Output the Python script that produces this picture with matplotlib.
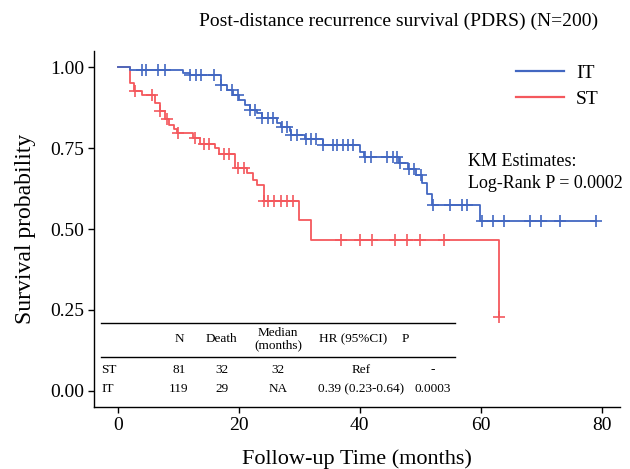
import numpy as np
import matplotlib
matplotlib.use('Agg')
import matplotlib.pyplot as plt
from matplotlib.lines import Line2D

# step times and survival after each step
it_times = [0, 2.0, 10.7, 11.9, 17.0, 18.0, 19.0, 20.0, 21.0, 21.8, 23.0, 23.9,
            26.3, 27.0, 28.4, 28.6, 31.0, 33.9, 40.0, 40.7, 46.5, 48.0, 49.3,
            50.3, 51.1, 51.9, 59.9]
it_surv = [1.0, 0.992, 0.983, 0.975, 0.944, 0.929, 0.914, 0.898, 0.884, 0.869,
           0.857, 0.842, 0.829, 0.816, 0.803, 0.790, 0.778, 0.759, 0.739, 0.721,
           0.703, 0.685, 0.667, 0.641, 0.608, 0.574, 0.525]
it_end = 79.1
it_censor = [3.9, 4.7, 6.7, 7.8, 11.9, 12.9, 13.7, 15.9, 17.0, 18.8, 19.9, 21.9,
             22.7, 23.9, 24.9, 25.7, 27.1, 27.9, 28.7, 29.6, 31.1, 32.0, 32.8,
             33.9, 35.6, 36.3, 37.2, 38.1, 38.9, 40.8, 41.8, 44.5, 45.5, 46.1,
             46.7, 48.1, 48.9, 50.1, 52.1, 55.0, 56.9, 57.7, 60.2, 62.0, 63.9,
             68.1, 70.0, 73.1, 79.1]

st_times = [0, 2.0, 2.6, 3.9, 6.1, 6.9, 7.8, 8.4, 9.3, 9.8, 12.5, 13.5, 16.0,
            16.8, 19.3, 21.3, 22.3, 23.0, 24.1, 30.0, 31.9, 63.1]
st_surv = [1.0, 0.951, 0.926, 0.914, 0.889, 0.864, 0.839, 0.821, 0.810, 0.797,
           0.780, 0.764, 0.749, 0.733, 0.690, 0.672, 0.651, 0.636, 0.587, 0.528,
           0.466, 0.229]
st_end = 63.1
st_censor = [2.8, 5.6, 6.9, 8.1, 10.0, 12.7, 14.2, 15.1, 17.5, 18.3, 19.8, 20.8,
             24.1, 24.9, 25.8, 26.9, 27.9, 28.9, 36.9, 40.0, 42.0, 45.9, 47.9,
             50.0, 53.9, 63.1]

# summary table
tab_header = ['N', 'Death', 'Median\n(months)', 'HR (95%CI)', 'P']
tab_groups = ['ST', 'IT']
tab_n = ['81', '119']
tab_death = ['32', '29']
tab_median = ['32', 'NA']
tab_hr = ['Ref', '0.39 (0.23-0.64)']
tab_p = ['-', '0.0003']

BLUE = '#4267c1'
RED = '#f4585d'


def surv_at(times, surv, t):
    idx = np.searchsorted(times, t, side='right') - 1
    return np.asarray(surv)[idx]


def main():
    plt.rcParams['font.family'] = ['Liberation Serif', 'DejaVu Serif']

    fig = plt.figure(figsize=(6.3, 4.69), dpi=100)
    ax = fig.add_axes([94 / 630, 1 - 407 / 469, 526 / 630, 356 / 469])

    for times, surv, end, cens, col in [
            (st_times, st_surv, st_end, st_censor, RED),
            (it_times, it_surv, it_end, it_censor, BLUE)]:
        tx = list(times) + [end]
        sy = list(surv) + [surv[-1]]
        ax.step(tx, sy, where='post', color=col, linewidth=1.3)
        ax.plot(cens, surv_at(times, surv, cens), linestyle='none',
                marker='+', markersize=8, markeredgewidth=1.2, color=col)

    ax.set_xlim(-3.96, 83.06)
    ax.set_ylim(-0.05, 1.05)
    ax.set_xticks([0, 20, 40, 60, 80])
    ax.set_yticks([0, 0.25, 0.5, 0.75, 1.0])
    ax.set_yticklabels(['0.00', '0.25', '0.50', '0.75', '1.00'])
    for s in ['top', 'right']:
        ax.spines[s].set_visible(False)
    for s in ['left', 'bottom']:
        ax.spines[s].set_linewidth(1.0)
    ax.tick_params(labelsize=14, length=4, width=1.0, pad=3)

    ax.set_xlabel('Follow-up Time (months)', fontsize=16, labelpad=11)
    ax.set_ylabel('Survival probability', fontsize=17, labelpad=10)
    fig.text(0.632, 1 - 21 / 469, 'Post-distance recurrence survival (PDRS) (N=200)',
             ha='center', va='center', fontsize=14)

    handles = [Line2D([], [], color=BLUE, linewidth=1.6),
               Line2D([], [], color=RED, linewidth=1.6)]
    ax.legend(handles, ['IT', 'ST'], loc='upper left', bbox_to_anchor=(0.787, 0.985),
              frameon=False, fontsize=14, handlelength=2.5, handletextpad=0.6,
              labelspacing=0.45, borderaxespad=0)

    ax.text(57.9, 0.675, 'KM Estimates:\nLog-Rank P = 0.0002', fontsize=13,
            ha='left', va='center', linespacing=1.4)

    # table
    ax.plot([-2.8, 55.8], [0.211, 0.211], color='black', linewidth=1.0)
    ax.plot([-2.8, 55.8], [0.106, 0.106], color='black', linewidth=1.0)
    fs = 9.5
    head_x = [10.1, 17.2, 26.5, 38.9, 47.6]
    for x, h in zip(head_x, tab_header):
        ax.text(x, 0.160, h, ha='center', va='center', fontsize=fs, linespacing=1.0)
    row_y = [0.065, 0.006]
    for i, g in enumerate(tab_groups):
        y = row_y[i]
        ax.text(-2.7, y, g, ha='left', va='center', fontsize=fs)
        ax.text(10.1, y, tab_n[i], ha='center', va='center', fontsize=fs)
        ax.text(17.2, y, tab_death[i], ha='center', va='center', fontsize=fs)
        ax.text(26.5, y, tab_median[i], ha='center', va='center', fontsize=fs)
        ax.text(40.2, y, tab_hr[i], ha='center', va='center', fontsize=fs)
        ax.text(52.0, y, tab_p[i], ha='center', va='center', fontsize=fs)

    fig.savefig('out.png', dpi=100)
    plt.close(fig)


if __name__ == "__main__":
    main()
